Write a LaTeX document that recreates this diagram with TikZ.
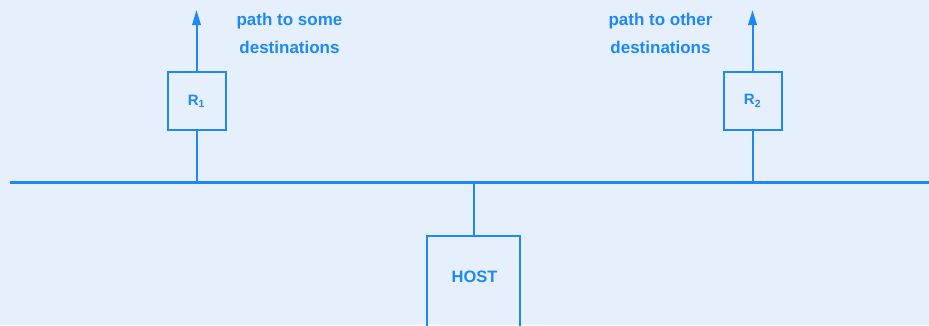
\documentclass[tikz,border=0pt]{standalone}
\usepackage{fontspec}
\setmainfont{Liberation Sans}
\usetikzlibrary{arrows.meta}
\definecolor{bg}{RGB}{230,240,253}
\definecolor{ink}{RGB}{30,136,245}
\begin{document}
\begin{tikzpicture}[x=1pt,y=-1pt,
  box/.style={draw=ink,line width=2pt,minimum width=58pt,minimum height=58pt,inner sep=0pt,
    font=\fontsize{15}{15}\selectfont\bfseries,text=ink},
  label/.style={font=\fontsize{17}{28}\selectfont\bfseries,text=ink,align=center},
  wire/.style={draw=ink,line width=2pt},
  uparrow/.style={wire,-{Triangle[length=15pt,width=8.5pt]}}]
  % background and fixed frame
  \fill[bg] (0,0) rectangle (929,325);
  \useasboundingbox (0,0) rectangle (929,325);
  % network bus
  \coordinate (busL) at (10,182);
  \coordinate (busR) at (929,182);
  \draw[draw=ink,line width=3pt] (busL) -- (busR);
  % routers
  \node[box] (r1) at (196.5,101) {R\textsubscript{1}};
  \node[box] (r2) at (752.5,101) {R\textsubscript{2}};
  \coordinate (t1) at (196.5,10);
  \coordinate (t2) at (752.5,10);
  \coordinate (b1) at (196.5,182);
  \coordinate (b2) at (752.5,182);
  \draw[wire] (r1.south) -- (b1);
  \draw[wire] (r2.south) -- (b2);
  \draw[uparrow] (r1.north) -- (t1);
  \draw[uparrow] (r2.north) -- (t2);
  % host
  \node[box,minimum width=93pt,minimum height=120pt,anchor=north] (host) at (473.5,235) {};
  \node[font=\fontsize{16.5}{16.5}\selectfont\bfseries,text=ink] (hostlabel) at (474.5,277) {HOST};
  \coordinate (hb) at (473.5,182);
  \draw[wire] (hb) -- (host.north);
  % path labels
  \node[label] (l1) at (289.5,33) {path to some\\destinations};
  \node[label] (l2) at (660.5,33) {path to other\\destinations};
\end{tikzpicture}
\end{document}
